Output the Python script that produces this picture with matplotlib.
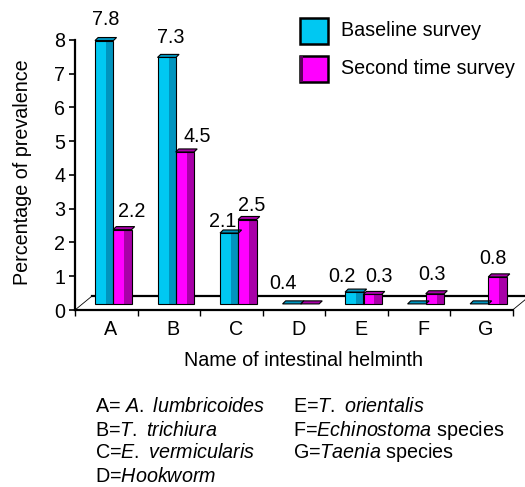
import matplotlib
matplotlib.use('Agg')
import matplotlib.pyplot as plt
from matplotlib.patches import Polygon, Rectangle

plt.rcParams['font.family'] = ['Liberation Sans', 'DejaVu Sans']
plt.rcParams['mathtext.fontset'] = 'custom'
plt.rcParams['mathtext.rm'] = 'Liberation Sans'
plt.rcParams['mathtext.it'] = 'Liberation Sans:italic'

# data
categories = ['A', 'B', 'C', 'D', 'E', 'F', 'G']
baseline = [7.8, 7.3, 2.1, 0.0, 0.35, 0.0, 0.0]
second = [2.2, 4.5, 2.5, 0.0, 0.28, 0.3, 0.8]
baseline_labels = ['7.8', '7.3', '2.1', '0.4', '0.2', '', '']
second_labels = ['2.2', '4.5', '2.5', '', '0.3', '0.3', '0.8']
series_names = ['Baseline survey', 'Second time survey']
key_col1 = [r'A= $\mathit{A.\ lumbricoides}$', r'B=$\mathit{T.\ trichiura}$',
            r'C=$\mathit{E.\ vermicularis}$', r'D=$\mathit{Hookworm}$']
key_col2 = [r'E=$\mathit{T.\ orientalis}$', r'F=$\mathit{Echinostoma}$ species',
            r'G=$\mathit{Taenia}$ species']

# hand placed label nudges (slot units, value units)
b_dx = [0.02, 0.06, -0.11, -0.14, -0.2, 0, 0]
b_dy = [0.45, 0.42, 0.19, 0.43, 0.31, 0, 0]
s_dx = [0.15, 0.2, 0.07, 0, 0.1, -0.04, -0.08]
s_dy = [0.36, 0.31, 0.24, 0, 0.38, 0.42, 0.37]

W, H = 525, 487
FS = 14.2
cyan, cyan_dark = '#00c8f2', '#0094be'
mag, mag_dark = '#ff00ff', '#a800a8'

fig = plt.figure(figsize=(W / 100, H / 100), dpi=100)
ax = fig.add_axes([75 / W, (H - 310) / H, 447 / W, 287 / H])
ax.set_xlim(0, 7.15)
ax.set_ylim(0, 8.5)

# floor of the pseudo 3d box
fdx, fdy = 0.27, 0.41
ax.add_patch(Polygon([(0, 0), (7, 0), (7 + fdx, fdy), (fdx, fdy)], closed=True,
                     facecolor='white', edgecolor='none', zorder=1, clip_on=False))
ax.plot([fdx, 7 + fdx], [fdy, fdy], color='black', lw=1.6, zorder=1.5, clip_on=False)
ax.plot([0, fdx], [0, fdy], color='black', lw=0.6, zorder=1.5, clip_on=False)
ax.plot([7, 7 + fdx], [0, fdy], color='black', lw=0.6, zorder=1.5, clip_on=False)

bottom = 0.18
bw = 0.295
cdx, cdy = 0.05, 0.09


def draw_bar(x0, h, light, dark):
    top = bottom + h
    if h > 0:
        ax.add_patch(Rectangle((x0, bottom), bw * 0.6, h, facecolor=light,
                               edgecolor='none', zorder=3))
        ax.add_patch(Rectangle((x0 + bw * 0.6, bottom), bw * 0.4, h, facecolor=dark,
                               edgecolor='none', zorder=3))
        ax.add_patch(Rectangle((x0, bottom), bw, h, facecolor='none',
                               edgecolor='black', lw=0.8, zorder=4))
    ax.add_patch(Polygon([(x0, top), (x0 + bw, top), (x0 + bw + cdx, top + cdy),
                          (x0 + cdx, top + cdy)], closed=True, facecolor=dark,
                         edgecolor='black', lw=0.8, zorder=4))
    return top


for i in range(len(categories)):
    xb = i + 0.32
    xs = i + 0.61
    tb = draw_bar(xb, baseline[i], cyan, cyan_dark)
    ts = draw_bar(xs, second[i], mag, mag_dark)
    if baseline_labels[i]:
        ax.text(xb + bw / 2 + b_dx[i], tb + b_dy[i], baseline_labels[i],
                ha='center', va='baseline', fontsize=FS, zorder=5)
    if second_labels[i]:
        ax.text(xs + bw / 2 + s_dx[i], ts + s_dy[i], second_labels[i],
                ha='center', va='baseline', fontsize=FS, zorder=5)

# axes styling
for s in ['top', 'right']:
    ax.spines[s].set_visible(False)
ax.spines['left'].set_bounds(0, 8)
ax.spines['bottom'].set_bounds(0, 7)
ax.spines['left'].set_linewidth(1.6)
ax.spines['bottom'].set_linewidth(1.6)
ax.spines['left'].set_zorder(6)
ax.spines['bottom'].set_zorder(6)
ax.set_yticks(range(0, 9))
ax.tick_params(axis='y', direction='out', length=4.5, width=1.2, pad=2.5,
               labelsize=FS)
ax.set_xticks(range(0, 8))
ax.set_xticklabels([])
ax.tick_params(axis='x', which='major', direction='out', length=4, width=1.0)
ax.set_xticks([i + 0.57 for i in range(len(categories))], minor=True)
ax.set_xticklabels(categories, minor=True, fontsize=FS)
ax.tick_params(axis='x', which='minor', length=0, pad=7)
ax.patch.set_visible(False)

fig.text(23 / W, 1 - 172 / H, 'Percentage of prevalence', rotation=90,
         ha='center', va='center', fontsize=FS)
fig.text(304 / W, 1 - 360 / H, 'Name of intestinal helminth',
         ha='center', va='center', fontsize=FS)

# legend drawn by hand
for k, (name, light, dark) in enumerate(zip(series_names, [cyan, mag],
                                            ['#006a8a', '#5a005a'])):
    y_top = 18 + k * 38
    fig.patches.append(Rectangle((300 / W, 1 - (y_top + 26) / H), 28 / W, 26 / H,
                                 facecolor=light, edgecolor='black', lw=1.8,
                                 transform=fig.transFigure))
    if k == 1:
        fig.patches.append(Rectangle((300 / W, 1 - (y_top + 26) / H), 3 / W, 26 / H,
                                     facecolor=dark, edgecolor='none',
                                     transform=fig.transFigure))
    fig.text(341 / W, 1 - (y_top + 13) / H, name, ha='left', va='center',
             fontsize=FS)

for j, line in enumerate(key_col1):
    fig.text(95 / W, 1 - (407 + 23 * j) / H, line, ha='left', va='center',
             fontsize=FS)
for j, line in enumerate(key_col2):
    fig.text(293 / W, 1 - (407 + 23 * j) / H, line, ha='left', va='center',
             fontsize=FS)

fig.savefig('out.png', dpi=100)
